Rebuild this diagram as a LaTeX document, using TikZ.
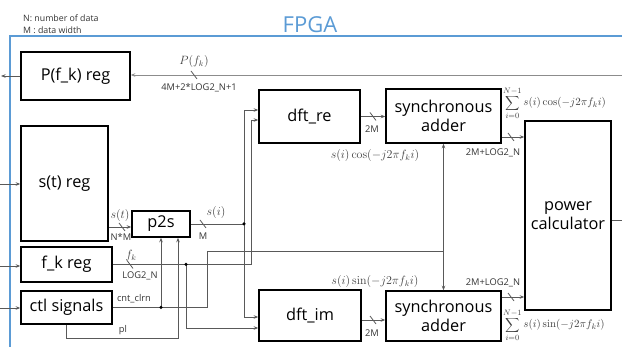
\documentclass[tikz,border=0pt]{standalone}
\usepackage[no-math]{fontspec}
\setmainfont{Open Sans}
\usetikzlibrary{arrows.meta,calc}
\definecolor{fpgablue}{RGB}{91,155,213}
% short slash across a bus line, marking its width
\newcommand\busmark[1]{\draw[wire] ($(#1)+(-3,-4)$) -- ($(#1)+(3,4)$);}
\begin{document}
\begin{tikzpicture}[x=1pt,y=-1pt,
  box/.style={draw=black,line width=1.5pt,fill=white,inner sep=0pt,align=center,
              font=\fontsize{16.3}{18.5}\selectfont},
  wire/.style={draw=black!65,line width=0.8pt},
  arr/.style={-{Stealth[length=4.5pt,width=3.5pt]}},
  lbl/.style={font=\fontsize{9.3}{11}\selectfont,text=black!80,inner sep=0pt},
  note/.style={font=\fontsize{8.8}{10}\selectfont,text=black!80,inner sep=0pt},
  mlbl/.style={font=\fontsize{11.5}{13}\selectfont,text=black!75,inner sep=0pt},
  slbl/.style={font=\fontsize{11}{13}\selectfont,text=black!75,inner sep=0pt},
  jdot/.style={circle,fill=black,inner sep=0pt,minimum size=3.5pt},
  fpgaframe/.style={draw=fpgablue,line width=1.6pt}]

\useasboundingbox (0,0) rectangle (622,347);

% FPGA boundary and notes
\draw[fpgaframe] (10,347) -- (10,36) -- (622,36);
\node[text=fpgablue,font=\fontsize{22}{24}\selectfont] (fpga) at (310,25) {FPGA};
\node[note,anchor=west] (noteN) at (23,18) {N: number of data};
\node[note,anchor=west] (noteM) at (23,30) {M : data width};

% blocks
\node[box,minimum width=109pt,minimum height=48pt]  (preg)  at (75.5,76)    {P(f\_k) reg};
\node[box,minimum width=87pt,minimum height=115pt]  (streg) at (64.5,183.5) {s(t) reg};
\node[box,minimum width=91pt,minimum height=35pt]   (fkreg) at (66.5,264.5) {f\_k reg};
\node[box,minimum width=91pt,minimum height=33pt]   (ctl)   at (66.5,307.5) {ctl signals};
\node[box,minimum width=58pt,minimum height=26pt]   (p2s)   at (161,224)    {p2s};
\node[box,minimum width=101pt,minimum height=53pt]  (dftre) at (309.5,116.5) {dft\_re};
\node[box,minimum width=102pt,minimum height=51pt]  (dftim) at (310,315.5)  {dft\_im};
\node[box,minimum width=115pt,minimum height=54pt]  (addre) at (443.5,116)  {synchronous\\adder};
\node[box,minimum width=115pt,minimum height=50pt]  (addim) at (443.5,316)  {synchronous\\adder};
\node[box,minimum width=86pt,minimum height=189pt]  (power) at (568,215.5)  {power\\calculator};

% power result fed back to the P(f_k) register
\coordinate (pin) at (622,75);
\draw[wire,arr,draw=black!45] (pin) -- (preg.east |- pin);
\busmark{194,75}
\node[mlbl] (plab) at (194,62) {$P(f_k)$};
\node[lbl] (pwid) at (199,88) {4M+2*LOG2\_N+1};
\coordinate (pout) at (1,76);
\draw[wire,arr] (preg.west) -- (pout);

% external inputs
\coordinate (stin) at (0,184);
\draw[wire,arr] (stin) -- (streg.west |- stin);
\coordinate (fkin) at (0,266);
\draw[wire,arr] (fkin) -- (fkreg.west |- fkin);
\coordinate (ctlin) at (0,308);
\draw[wire,arr] (ctlin) -- (ctl.west |- ctlin);

% s(t) -> p2s
\coordinate (stp) at (120,227);
\draw[wire,arr] (streg.east |- stp) -- (p2s.west |- stp);
\busmark{122,227}
\node[mlbl] (stlab) at (120,216) {$s(t)$};
\node[lbl] (nmlab) at (121,237) {N*M};

% s(i) distribution
\coordinate (si) at (244,224);
\draw[wire] (p2s.east) -- (si);
\busmark{203,224}
\node[mlbl] (silab) at (216,213) {$s(i)$};
\node[lbl] (mlab) at (203,236) {M};
\draw[wire,arr] (si) |- ($(dftre.west)+(0,-6.5)$);
\draw[wire,arr] (si) |- ($(dftim.west)+(0,1.5)$);
\node[jdot] (sidot) at (si) {};

% f_k distribution
\coordinate (fkj) at (186,264.5);
\draw[wire] (fkreg.east) -- (fkj);
\draw[wire,arr] (fkj) -| ($(dftre.west)+(-7,3.5)$) -- ($(dftre.west)+(0,3.5)$);
\draw[wire,arr] (fkj) |- ($(dftim.west)+(0,12.5)$);
\node[jdot] (fkdot) at (fkj) {};
\busmark{130,264.5}
\node[mlbl] (fklab) at (131,256) {$f_k$};
\node[lbl] (loglab) at (140,276) {LOG2\_N};

% cnt_clrn: clears p2s and both adders
\coordinate (clr) at (161,307.5);
\coordinate (clrj) at (443.5,251);
\draw[wire] (ctl.east) -- (207,307.5) |- (clrj);
\draw[wire,arr] (clrj) -- (addre.south);
\draw[wire,arr] (clrj) -- (addim.north);
\draw[wire,arr] (clr) -- (clr |- p2s.south);
\node[jdot] (clrdot) at (clr) {};
\node[lbl] (clrlab) at (134,299) {cnt\_clrn};

% pl: parallel load of p2s
\draw[wire,arr] (ctl.south) -- ++(0,14) -| ($(p2s.south)+(17,0)$);
\node[lbl] (pllab) at (123,330) {pl};

% dft -> adders
\draw[wire,arr] (dftre.east) -- (addre.west |- dftre.east);
\busmark{373,116.5}
\node[lbl] (re2m) at (372,129) {2M};
\draw[wire,arr] ($(dftim.east)+(0,4.5)$) -- (addim.west |- {$(dftim.east)+(0,4.5)$});
\busmark{373,320}
\node[lbl] (im2m) at (372,333) {2M};
\node[mlbl] (cosl) at (375,156) {$s(i)\cos(-j2\pi f_k i)$};
\node[mlbl] (sinl) at (375,282) {$s(i)\sin(-j2\pi f_k i)$};

% adders -> power calculator
\draw[wire,arr] ($(addre.east)+(0,21)$) -- (power.west |- {$(addre.east)+(0,21)$});
\busmark{511,137}
\node[lbl] (rew) at (493,153) {2M+LOG2\_N};
\draw[wire,arr] ($(addim.east)+(0,-19)$) -- (power.west |- {$(addim.east)+(0,-19)$});
\busmark{511,297}
\node[lbl] (imw) at (493,283) {2M+LOG2\_N};
\node[slbl,anchor=west] (sumre) at (503,103) {$\displaystyle\sum_{i=0}^{N-1} s(i)\cos(-j2\pi f_k i)$};
\node[slbl,anchor=west] (sumim) at (503,325) {$\displaystyle\sum_{i=0}^{N-1} s(i)\sin(-j2\pi f_k i)$};

% power calculator output
\coordinate (pwout) at (622,220);
\draw[wire] (power.east |- pwout) -- (pwout);
\end{tikzpicture}
\end{document}
